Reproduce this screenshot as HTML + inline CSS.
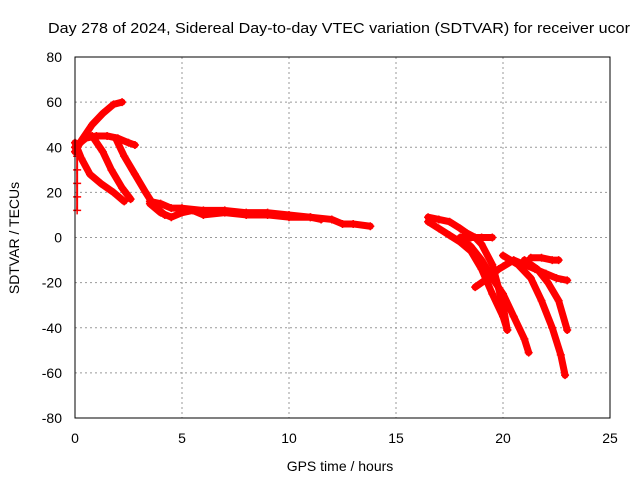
<!DOCTYPE html>
<html><head><meta charset="utf-8"><style>
body{margin:0;background:#fff;font-family:"Liberation Sans",sans-serif}
svg text{font-family:"Liberation Sans",sans-serif;font-size:14px;fill:#000}
</style></head><body>
<svg id="chart" width="640" height="480" xmlns="http://www.w3.org/2000/svg">
<text x="48" y="33" textLength="582" lengthAdjust="spacingAndGlyphs" style="font-size:15px">Day 278 of 2024, Sidereal Day-to-day VTEC variation (SDTVAR) for receiver ucor</text>
<g id="grid"></g>
<g id="marks"></g>
<rect x="75" y="57" width="535" height="361" fill="none" stroke="#000" stroke-width="1"/>
<g id="ticks"></g>
<text x="340" y="471" text-anchor="middle">GPS time / hours</text>
<text transform="translate(19,238) rotate(-90)" text-anchor="middle">SDTVAR / TECUs</text>
</svg>
<script>
const xTicks=[0,5,10,15,20,25];
const yTicks=[-80,-60,-40,-20,0,20,40,60,80];
const trackA=[[0.1,12],[0.1,18],[0.1,24],[0.1,30],[0.1,36],[0.1,40]];
const trackB=[[0,38],[0.3,43],[0.8,50],[1.3,55],[1.8,59],[2.2,60]];
const trackC=[[0,40],[0.5,44],[1,45],[1.5,45],[2,44],[2.5,42],[2.8,41]];
const trackD=[[0,42],[0.3,35],[0.7,28],[1.2,24],[1.8,20],[2.3,16]];
const trackE=[[0.8,45],[1.3,38],[1.7,30],[2.2,22],[2.6,17]];
const trackF=[[1.9,44],[2.3,36],[2.8,28],[3.3,20],[3.7,14],[4.2,10]];
const trackG=[[3.5,15],[4,11],[4.5,9],[5,11],[5.5,12],[6,10],[7,11],[8,10],[9,10],[10,9],[11,9],[12,8],[12.5,6],[13,6],[13.8,5]];
const trackH=[[3.5,16],[4,15],[4.5,13],[5,13],[6,12],[7,12],[8,11],[9,11],[10,10],[11,9],[11.5,8]];
const trackI=[[16.5,9],[17,8],[17.5,7],[18,4],[18.3,2],[18.7,0],[19,-3],[19.5,-12],[20,-30],[20.2,-41]];
const trackJ=[[16.5,7],[17,4],[17.5,1],[18,-2],[18.5,-6],[19,-14],[19.5,-25],[20,-35],[20.2,-41]];
const trackK=[[18,0],[18.5,-4],[19,-10],[19.5,-18],[20,-25],[20.5,-35],[21,-45],[21.2,-51]];
const trackL=[[18,0],[18.5,0],[19,0],[19.5,0]];
const trackM=[[18.7,-22],[19.3,-18],[19.8,-14],[20.5,-10],[21,-12],[21.5,-14],[22,-16],[22.5,-18],[23,-19]];
const trackN=[[20,-8],[20.7,-12],[21.3,-18],[21.8,-28],[22.3,-40],[22.7,-52],[22.9,-61]];
const trackO=[[21,-10],[21.6,-14],[22.1,-20],[22.6,-28],[23,-41]];
const trackP=[[21.3,-9],[21.8,-9],[22.3,-10],[22.6,-10]];
const tracks=[trackA,trackB,trackC,trackD,trackE,trackF,trackG,trackH,trackI,trackJ,trackK,trackL,trackM,trackN,trackO,trackP];
const NS="http://www.w3.org/2000/svg";
const X=v=>75+v*535/25, Y=v=>237.5-v*361/160;
const grid=document.getElementById('grid'),ticks=document.getElementById('ticks'),marks=document.getElementById('marks');
function mk(tag,attrs,parent){const e=document.createElementNS(NS,tag);for(const k in attrs)e.setAttribute(k,attrs[k]);parent.appendChild(e);return e;}
xTicks.forEach(t=>{
 if(t>0&&t<25){const l=mk('line',{x1:X(t),x2:X(t),y1:57,y2:418,stroke:'#999','stroke-dasharray':'2,3'},grid);
 
 }
 const tx=mk('text',{x:X(t),y:443,'text-anchor':'middle'},ticks);tx.textContent=t;
 
 
});
yTicks.forEach(t=>{
 if(t>-80&&t<80){const l=mk('line',{x1:75,x2:610,y1:Y(t),y2:Y(t),stroke:'#999','stroke-dasharray':'2,3'},grid);
 
 }
 const tx=mk('text',{x:62,y:Y(t)+5,'text-anchor':'end'},ticks);tx.textContent=t;
 
 
});
tracks.forEach((tr,i)=>{
 const p=mk('polyline',{points:tr.map(d=>X(d[0])+','+Y(d[1])).join(' '),fill:'none',stroke:'#f00','stroke-width':(i===0?2:7),'stroke-linecap':'round','stroke-linejoin':'round'},marks);
 
 
 tr.forEach(d=>{
  const m=mk('path',{d:`M${X(d[0])-4},${Y(d[1])}h8M${X(d[0])},${Y(d[1])-4}v8`,stroke:'#f00','stroke-width':1.5},marks);
  
  
 });
});
</script>
</body></html>
